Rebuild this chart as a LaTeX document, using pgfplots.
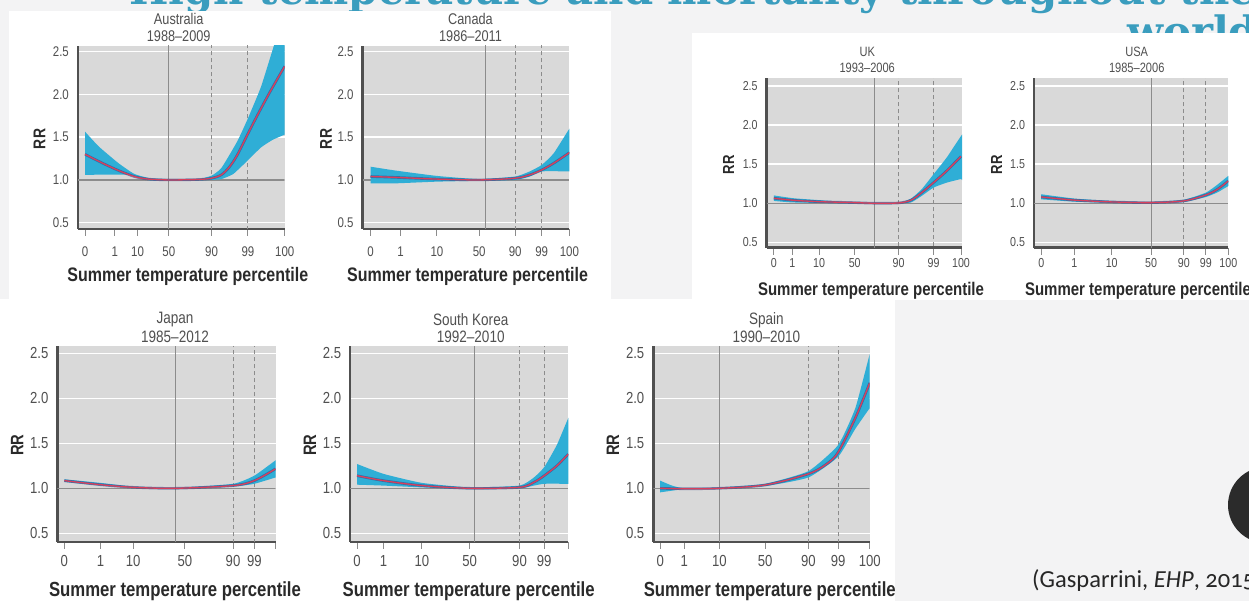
\documentclass[border=0pt]{standalone}
\usepackage{fontspec}
\usepackage{graphicx}
\usepackage{pgfplots}
\pgfplotsset{compat=1.18}
\newfontfamily\pf[FakeStretch=0.82]{Liberation Sans}
\newfontfamily\tf{DejaVu Serif}
\newfontfamily\cf[Numbers=OldStyle]{Carlito}
\definecolor{bgc}{HTML}{F3F3F4}
\definecolor{titc}{HTML}{3A9DBE}
\definecolor{panelc}{HTML}{D9D9D9}
\definecolor{axisc}{HTML}{505050}
\definecolor{gridc}{HTML}{8C8C8C}
\definecolor{vlc}{HTML}{8C8C8C}
\definecolor{bandc}{HTML}{2FAED6}
\definecolor{navyc}{HTML}{2E3F84}
\definecolor{redc}{HTML}{D8405C}
\definecolor{labc}{HTML}{505050}
\definecolor{xlc}{HTML}{2A2A2A}
\pgfplotsset{
  rrpanel/.style={
    scale only axis, anchor=south west,
    axis x line=bottom, axis y line=left,
    axis line style={-, draw=axisc, line width=2.4pt},
    axis background/.style={fill=panelc},
    ytick={0.5,1,1.5,2,2.5}, yticklabels={0.5,1.0,1.5,2.0,2.5},
    ymajorgrids, major grid style={white, line width=1.4pt},
    ytick style={draw=none},
    xtick style={draw=gridc, line width=1pt},
    xtick align=outside, major tick length=7pt,
    tick label style={text=labc},
    yticklabel style={xshift=-2pt},
  }
}
\newcommand\refl[5]{%
  \draw[gridc, line width=1.2pt] (axis cs:#4,1) -- (axis cs:#5,1);
  \draw[vlc, line width=1pt] (axis cs:#1,0) -- (axis cs:#1,3);
  \draw[vlc, line width=1pt, dash pattern=on 4pt off 3pt] (axis cs:#2,0) -- (axis cs:#2,3);
  \draw[vlc, line width=1pt, dash pattern=on 4pt off 3pt] (axis cs:#3,0) -- (axis cs:#3,3);
}
\newcommand\curves[2]{%
  \addplot[fill=bandc, draw=none, smooth, tension=0.3] coordinates {#1} -- cycle;
  \addplot[navyc, opacity=0.55, line width=2.6pt, smooth] coordinates {#2};
  \addplot[redc, line width=1.3pt, smooth] coordinates {#2};
}
\newlength\tlen
\begin{document}
\settowidth\tlen{\tf\bfseries\fontsize{40}{40}\selectfont High temperature and mortality throughout the}%
\pgfmathsetmacro\ts{1127/\tlen}%
\begin{tikzpicture}
\path[use as bounding box] (0pt,0pt) rectangle (1249pt,-601pt);
\begin{scope}[x=1pt,y=-1pt]
\fill[bgc] (0,0) rectangle (1249,601);
\node[anchor=base west, inner sep=0, text=titc] at (129,5) {\scalebox{\ts}{\tf\bfseries\fontsize{40}{40}\selectfont High temperature and mortality throughout the}};
\node[anchor=north west, inner sep=0, text=titc] at (1127,15) {\scalebox{\ts}{\tf\bfseries\fontsize{40}{40}\selectfont world}};
\fill[white] (8.7,11) rectangle (611,299);
\fill[white] (692,33.3) rectangle (1249,300);
\fill[white] (0,299) rectangle (895,601);
\end{scope}

% ---------- Australia
\begin{axis}[rrpanel, at={(77.9pt,-229pt)}, width=206.8pt, height=183pt,
  xmin=77.9, xmax=284.7, ymin=0.426, ymax=2.567,
  xtick={85,114.7,137.6,168.8,211.5,247.9,284.7}, xticklabels={0,1,10,50,90,99,100},
  tick label style={font=\pf\fontsize{14}{14}\selectfont}, xticklabel style={yshift=-7pt}]
\refl{168.8}{211.5}{247.9}{77.9}{284.7}
\curves{(85,1.565) (98.9,1.39) (118.6,1.195) (134.4,1.07) (150,1.02) (168.8,1.01) (197.7,1.01) (211.5,1.05) (221.4,1.14) (237.2,1.45) (247.9,1.72) (261,2.09) (273.6,2.56) (284.7,2.95) (286,2.95)
 (286,1.53) (284.7,1.53) (272.8,1.47) (261,1.38) (247.9,1.23) (233.3,1.07) (221.4,1.01) (211.5,1.0) (197.7,0.995) (168.8,0.99) (150,0.995) (140,1.02) (128,1.06) (85,1.06)}
{(85,1.30) (102.8,1.195) (118.6,1.11) (134.4,1.04) (148.3,1.01) (168.8,1.0) (197.7,1.005) (211.5,1.02) (221.4,1.06) (229.3,1.15) (237.2,1.29) (247.9,1.54) (258,1.77) (270,2.03) (284.7,2.33)}
\end{axis}

% ---------- Canada
\begin{axis}[rrpanel, at={(362.6pt,-229pt)}, width=206.8pt, height=183pt,
  xmin=362.6, xmax=569.4, ymin=0.426, ymax=2.567,
  xtick={370.5,400.6,436.9,479.2,515.2,541.7,569.4}, xticklabels={0,1,10,50,90,99,100},
  tick label style={font=\pf\fontsize{14}{14}\selectfont}, xticklabel style={yshift=-7pt}]
\refl{485.6}{515.2}{541.7}{362.6}{569.4}
\curves{(370.5,1.155) (395.4,1.11) (436.9,1.047) (479.2,1.01) (515.2,1.04) (529.8,1.10) (541.7,1.175) (553.6,1.31) (569.4,1.60) (571,1.60)
 (571,1.10) (569.4,1.10) (541.7,1.10) (529.8,1.04) (515.2,1.0) (479.2,0.99) (436.9,0.98) (395.4,0.96) (370.5,0.96)}
{(370.5,1.04) (395.4,1.03) (436.9,1.01) (479.2,1.0) (515.2,1.02) (529.8,1.06) (541.7,1.117) (553.6,1.195) (569.4,1.32)}
\end{axis}

% ---------- UK
\begin{axis}[rrpanel, at={(766.6pt,-247.7pt)}, width=195.4pt, height=169.4pt,
  xmin=766.6, xmax=962, ymin=0.431, ymax=2.599,
  xtick={773.8,792.3,819,854.7,898.6,933.5,961}, xticklabels={0,1,10,50,90,99,100},
  tick label style={font=\pf\fontsize{13}{13}\selectfont}, xticklabel style={yshift=0pt}]
\refl{874.7}{898.6}{933.5}{766.6}{962}
\curves{(773.8,1.10) (793.4,1.064) (819,1.04) (854.7,1.01) (898.6,1.01) (911,1.06) (921.7,1.18) (933.5,1.37) (946.7,1.585) (961,1.86) (963,1.86)
 (963,1.31) (961,1.31) (946.7,1.264) (933.5,1.2) (921.7,1.094) (911,1.01) (898.6,1.0) (854.7,0.998) (793.4,1.01) (773.8,1.03)}
{(773.8,1.064) (793.4,1.038) (819,1.02) (854.7,1.008) (874.7,1.0) (898.6,1.004) (911,1.04) (921.7,1.136) (933.5,1.264) (946.7,1.414) (961,1.60)}
\end{axis}

% ---------- USA
\begin{axis}[rrpanel, at={(1034pt,-247.7pt)}, width=194.3pt, height=169.4pt,
  xmin=1034, xmax=1228.3, ymin=0.431, ymax=2.599,
  xtick={1041.2,1074.3,1111.7,1151,1183.8,1205.9,1228.3}, xticklabels={0,1,10,50,90,99,100},
  tick label style={font=\pf\fontsize{13}{13}\selectfont}, xticklabel style={yshift=0pt}]
\refl{1151}{1183.8}{1205.9}{1034}{1228.3}
\curves{(1041.2,1.115) (1074.3,1.06) (1111.7,1.03) (1151,1.015) (1183.8,1.045) (1205.9,1.136) (1217.6,1.24) (1228.3,1.35) (1230,1.35)
 (1230,1.22) (1228.3,1.22) (1217.6,1.14) (1205.9,1.08) (1183.8,1.015) (1151,1.0) (1111.7,1.005) (1074.3,1.02) (1041.2,1.05)}
{(1041.2,1.08) (1074.3,1.04) (1111.7,1.017) (1151,1.008) (1183.8,1.03) (1205.9,1.106) (1217.6,1.18) (1228.3,1.286)}
\end{axis}

% ---------- Japan
\begin{axis}[rrpanel, at={(57.4pt,-541.7pt)}, width=218.1pt, height=195.7pt,
  xmin=57.4, xmax=275.5, ymin=0.407, ymax=2.58,
  xtick={64.3,100.5,133.2,184.8,233,254.3,275.5}, xticklabels={0,1,10,50,90,99,{}},
  tick label style={font=\pf\fontsize{16}{16}\selectfont}, xticklabel style={yshift=-3pt}]
\refl{175.1}{233.1}{254.3}{57.4}{275.5}
\curves{(64.3,1.10) (100.5,1.06) (133.2,1.02) (175.1,1.005) (233.1,1.05) (254.3,1.14) (275.5,1.31) (277,1.31)
 (277,1.12) (275.5,1.12) (254.3,1.05) (233.1,1.02) (175.1,0.995) (133.2,1.005) (100.5,1.03) (64.3,1.07)}
{(64.3,1.085) (100.5,1.04) (133.2,1.011) (175.1,1.0) (233.1,1.03) (254.3,1.085) (275.5,1.216)}
\end{axis}

% ---------- South Korea
\begin{axis}[rrpanel, at={(350.2pt,-541.7pt)}, width=218.1pt, height=195.7pt,
  xmin=350.2, xmax=568.3, ymin=0.407, ymax=2.58,
  xtick={357,383.5,421.9,469.6,519.5,544.2,568.3}, xticklabels={0,1,10,50,90,99,{}},
  tick label style={font=\pf\fontsize{16}{16}\selectfont}, xticklabel style={yshift=-3pt}]
\refl{474.2}{519.5}{544.2}{350.2}{568.3}
\curves{(357,1.27) (383.5,1.16) (421.9,1.06) (469.6,1.01) (519.5,1.03) (533.9,1.12) (544.2,1.235) (556.8,1.48) (568.3,1.78) (570,1.78)
 (570,1.05) (568.3,1.05) (544.2,1.05) (533.9,1.03) (519.5,1.0) (469.6,0.99) (421.9,1.01) (383.5,1.03) (357,1.04)}
{(357,1.14) (383.5,1.085) (421.9,1.03) (469.6,1.0) (519.5,1.011) (533.9,1.067) (544.2,1.14) (556.8,1.25) (568.3,1.38)}
\end{axis}

% ---------- Spain
\begin{axis}[rrpanel, at={(653.3pt,-541.7pt)}, width=216.4pt, height=195.7pt,
  xmin=653.3, xmax=869.7, ymin=0.407, ymax=2.58,
  xtick={660.2,684.3,719.3,765.2,808.3,838.1,869.7}, xticklabels={0,1,10,50,90,99,100},
  tick label style={font=\pf\fontsize{16}{16}\selectfont}, xticklabel style={yshift=-3pt}]
\refl{719.3}{808.3}{838.1}{653.3}{869.7}
\curves{(660.2,1.085) (672,1.03) (684.3,1.0) (719.3,1.01) (765.2,1.05) (808.3,1.19) (838.1,1.48) (855.3,1.89) (869.7,2.49) (871,2.49)
 (871,1.89) (869.7,1.89) (855.3,1.66) (838.1,1.35) (808.3,1.12) (765.2,1.025) (719.3,0.995) (684.3,0.99) (660.2,0.955)}
{(660.2,1.0) (684.3,0.995) (719.3,1.0) (765.2,1.037) (808.3,1.16) (826.6,1.27) (838.1,1.40) (855.3,1.78) (869.7,2.17)}
\end{axis}

\begin{scope}[x=1pt,y=-1pt]
% ---------- titles
\begin{scope}[every node/.style={text=labc, inner sep=0}]
\node[font=\pf\fontsize{15.5}{15.5}\selectfont] at (178.7,19) {Australia};
\node[font=\pf\fontsize{15.5}{15.5}\selectfont] at (178.7,36) {1988–2009};
\node[font=\pf\fontsize{15.5}{15.5}\selectfont] at (470.5,19) {Canada};
\node[font=\pf\fontsize{15.5}{15.5}\selectfont] at (470.5,36) {1986–2011};
\node[font=\pf\fontsize{13.5}{13.5}\selectfont] at (867.2,51.7) {UK};
\node[font=\pf\fontsize{13.5}{13.5}\selectfont] at (867.2,68.3) {1993–2006};
\node[font=\pf\fontsize{13.5}{13.5}\selectfont] at (1136.7,51.7) {USA};
\node[font=\pf\fontsize{13.5}{13.5}\selectfont] at (1136.7,68.3) {1985–2006};
\node[font=\pf\fontsize{16.5}{16.5}\selectfont] at (175,320) {Japan};
\node[font=\pf\fontsize{16.5}{16.5}\selectfont] at (175,336.7) {1985–2012};
\node[font=\pf\fontsize{16.5}{16.5}\selectfont] at (470.7,320) {South Korea};
\node[font=\pf\fontsize{16.5}{16.5}\selectfont] at (470.7,336.7) {1992–2010};
\node[font=\pf\fontsize{16.5}{16.5}\selectfont] at (766.4,320) {Spain};
\node[font=\pf\fontsize{16.5}{16.5}\selectfont] at (766.4,336.7) {1990–2010};
\end{scope}
% ---------- x labels
\begin{scope}[every node/.style={text=xlc, inner sep=0}]
\node[font=\pf\bfseries\fontsize{19.5}{19.5}\selectfont] at (187.8,276) {Summer temperature percentile};
\node[font=\pf\bfseries\fontsize{19.5}{19.5}\selectfont] at (467.6,276) {Summer temperature percentile};
\node[font=\pf\bfseries\fontsize{18.3}{18.3}\selectfont] at (871,291) {Summer temperature percentile};
\node[font=\pf\bfseries\fontsize{18.3}{18.3}\selectfont] at (1138,291) {Summer temperature percentile};
\node[font=\pf\bfseries\fontsize{20.4}{20.4}\selectfont] at (175,591.7) {Summer temperature percentile};
\node[font=\pf\bfseries\fontsize{20.4}{20.4}\selectfont] at (468.7,591.7) {Summer temperature percentile};
\node[font=\pf\bfseries\fontsize{20.4}{20.4}\selectfont] at (769.8,591.7) {Summer temperature percentile};
\node[rotate=90, font=\pf\bfseries\fontsize{17}{17}\selectfont] at (39.5,139) {RR};
\node[rotate=90, font=\pf\bfseries\fontsize{17}{17}\selectfont] at (326,139) {RR};
\node[rotate=90, font=\pf\bfseries\fontsize{16}{16}\selectfont] at (728.5,165) {RR};
\node[rotate=90, font=\pf\bfseries\fontsize{16}{16}\selectfont] at (996.6,165) {RR};
\node[rotate=90, font=\pf\bfseries\fontsize{18}{18}\selectfont] at (17.2,445) {RR};
\node[rotate=90, font=\pf\bfseries\fontsize{18}{18}\selectfont] at (310,445) {RR};
\node[rotate=90, font=\pf\bfseries\fontsize{18}{18}\selectfont] at (613,445) {RR};
\end{scope}
% ---------- decorations
\fill[black!83] (1266,505) circle (38pt);
\node[anchor=base west, inner sep=0, text=black!85, font=\cf\fontsize{24.5}{24.5}\selectfont] at (1032,587) {(Gasparrini, \textit{EHP}, 2015)};
\end{scope}
\end{tikzpicture}
\end{document}
